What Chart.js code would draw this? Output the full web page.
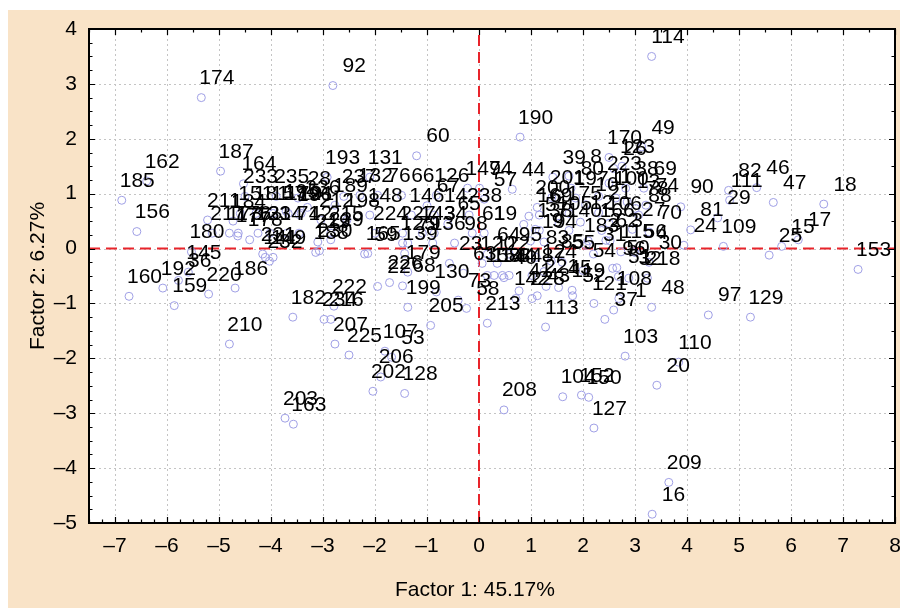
<!DOCTYPE html>
<html>
<head>
<meta charset="utf-8">
<title>Factor scores</title>
<script src="https://cdn.jsdelivr.net/npm/chart.js@4.4.0/dist/chart.umd.min.js"></script>
<style>
  html, body { margin: 0; padding: 0; background: #fff; }
  #wrap { width: 900px; height: 608px; }
</style>
</head>
<body>
<div id="wrap"><canvas id="factorChart" width="900" height="608"></canvas></div>
<script>
// ── Data: case numbers and their scores on factor 1 / factor 2 ──
const pointLabels = [
    174, 92, 114, 190, 60, 187, 164, 162, 185, 156,
    160, 192, 159, 36, 145, 220, 186, 180, 210, 182,
    234, 216, 222, 207, 225, 107, 53, 205, 206, 202,
    128, 203, 163, 208, 104, 152, 150, 127, 209, 16,
    20, 110, 97, 129, 103, 48, 37, 1, 121, 108,
    119, 142, 228, 113, 213, 58, 73, 199, 130, 68,
    226, 22, 153, 25, 15, 17, 18, 47, 46, 82,
    111, 29, 90, 81, 109, 24, 70, 30, 32, 218,
    96, 115, 56, 95, 83, 85, 194, 183, 62,
    170, 49, 26, 39, 8, 223, 80, 38, 69, 201,
    197, 100, 74, 78, 200, 169, 175, 88, 105, 106,
    138, 140, 166, 44, 57, 147, 94, 123, 2, 3,
    4, 5, 6, 7, 9, 10, 11, 12, 13, 21,
    27, 31,
    154, 84, 87, 124, 221, 40, 41, 43, 45, 50, 51, 52, 54, 55,
    131, 193, 28, 189, 132, 76, 66, 126, 148, 146,
    14, 238, 224, 227, 143, 34, 61, 19, 165, 125,
    79, 136, 98, 139, 23, 120, 122, 179, 158, 144,
    59, 63, 64, 65, 67,
    151, 181, 157, 172, 191, 211, 212, 198, 217, 176,
    133, 214, 71, 42, 215, 188, 141, 149, 173, 177,
    178, 184, 195, 196, 219, 229, 230, 231, 232, 233,
    235, 236, 237
];

const factor1 = [
    -5.34, -2.81, 3.32, 0.79, -1.20, -4.97, -4.53, -6.39, -6.87, -6.58,
    -6.73, -6.08, -5.86, -5.78, -5.59, -5.20, -4.69, -5.53, -4.80, -3.58,
    -2.98, -2.85, -2.79, -2.77, -2.50, -1.81, -1.68, -0.93, -1.89, -2.04,
    -1.43, -3.73, -3.57, 0.48, 1.61, 1.97, 2.11, 2.21, 3.65, 3.33,
    3.42, 3.84, 4.41, 5.22, 2.81, 3.32, 2.42, 2.59, 2.21, 2.69,
    1.79, 0.71, 1.02, 1.28, 0.16, -0.24, -0.40, -1.37, -0.82, -1.47,
    -1.72, -1.95, 7.29, 5.58, 5.82, 6.14, 6.63, 5.66, 5.34, 4.80,
    4.82, 4.59, 3.88, 4.07, 4.70, 3.94, 3.27, 3.27, 2.88, 3.24,
    2.57, 2.73, 2.98, 0.58, 1.10, 1.39, 1.25, 2.06, 2.44,
    2.50, 3.13, 2.59, 1.42, 1.73, 2.50, 1.77, 2.82, 3.17, 1.40,
    1.86, 2.63, 3.21, 3.01, 1.12, 1.16, 1.73, 3.07, 1.54, 2.50,
    1.16, 1.73, 2.36, 0.64, 0.10, -0.22, 0.01, 2.75, 2.10, 2.52,
    3.00, 0.86, 0.96, 1.08, 0.99, 2.05, 2.30, 1.95, 2.85, 2.30,
    2.95, 2.20,
    0.29, 0.58, 1.02, 1.25, 1.29, 0.48, 0.77, 1.12, 1.53, 2.65, 2.68, 1.80, 2.00, 1.60,
    -2.10, -2.92, -3.48, -2.77, -2.29, -1.95, -1.49, -0.82, -2.10, -1.30,
    -0.86, -0.19, -2.00, -1.47, -1.09, -0.86, -0.13, 0.10, -2.14, -1.47,
    -1.37, -0.89, -0.47, -1.43, -0.57, 0.06, 0.35, -1.37, 0.16, 0.45,
    -2.20, -0.30, 0.16, -0.60, -1.00,
    -4.59, -4.29, -3.96, -3.67, -3.42, -5.22, -3.04, -2.54, -5.13, -4.63,
    -4.25, -4.02, -3.69, -3.46, -2.85, -3.14, -4.11, -3.96, -4.80, -4.64,
    -4.41, -4.73, -3.71, -3.46, -3.10, -2.85, -3.07, -4.16, -4.03, -4.50,
    -3.90, -3.30, -2.60
];

const factor2 = [
    2.75, 2.97, 3.50, 2.03, 1.69, 1.41, 1.18, 1.23, 0.88, 0.31,
    -0.87, -0.72, -1.04, -0.58, -0.43, -0.83, -0.72, -0.06, -1.74, -1.25,
    -1.29, -1.29, -1.05, -1.74, -1.94, -1.87, -1.98, -1.40, -2.34, -2.60,
    -2.64, -3.09, -3.20, -2.94, -2.70, -2.67, -2.71, -3.27, -4.26, -4.84,
    -2.49, -2.07, -1.21, -1.25, -1.96, -1.07, -1.29, -1.12, -1.00, -0.91,
    -0.76, -0.91, -0.91, -1.43, -1.36, -1.09, -0.94, -1.07, -0.79, -0.68,
    -0.62, -0.69, -0.38, -0.12, 0.04, 0.16, 0.81, 0.84, 1.11, 1.06,
    0.88, 0.56, 0.76, 0.34, 0.04, 0.06, 0.30, -0.25, -0.54, -0.54,
    -0.36, -0.06, -0.06, -0.10, -0.16, -0.23, 0.12, 0.06, 0.15,
    1.66, 1.85, 1.46, 1.30, 1.32, 1.19, 1.10, 1.10, 1.10, 0.93,
    0.92, 0.92, 0.79, 0.73, 0.75, 0.61, 0.64, 0.61, 0.46, 0.46,
    0.33, 0.33, 0.33, 1.08, 0.90, 1.10, 1.10, 1.50, 0.14, 0.14,
    -0.07, 0.44, 0.59, 0.35, 0.14, 0.80, 0.95, 0.48, 0.85, 0.65,
    0.35, -0.10,
    -0.49, -0.49, -0.49, -0.42, -0.69, -0.53, -0.77, -0.86, -0.71, -0.35, -0.51, -0.86, -0.40, -0.25,
    1.30, 1.30, 0.92, 0.79, 0.97, 0.97, 0.97, 0.97, 0.61, 0.61,
    0.61, 0.61, 0.28, 0.28, 0.28, 0.28, 0.28, 0.28, -0.09, 0.10,
    0.10, 0.10, 0.10, -0.09, -0.27, -0.27, -0.27, -0.43, -0.49, -0.49,
    -0.10, -0.45, -0.10, 0.45, 0.78,
    0.64, 0.64, 0.64, 0.64, 0.64, 0.52, 0.52, 0.52, 0.28, 0.28,
    0.28, 0.28, 0.28, 0.28, 0.28, -0.07, -0.16, -0.16, 0.28, 0.23,
    0.16, 0.50, 0.68, 0.62, 0.12, 0.16, -0.04, -0.10, -0.23, 0.95,
    0.95, 0.75, 0.95
];

const xTicks = [-7, -6, -5, -4, -3, -2, -1, 0, 1, 2, 3, 4, 5, 6, 7, 8];
const yTicks = [-5, -4, -3, -2, -1, 0, 1, 2, 3, 4];

const xTitle = 'Factor 1: 45.17%';
const yTitle = 'Factor 2: 6.27%';

// ── Styling ──
const FONT = '"Liberation Sans", Arial, sans-serif';
const PEACH = '#f9e3c7';
const POINT_COLOR = '#a0a0e6';

Chart.defaults.font.family = FONT;

function minusSign(v) {
    return v < 0 ? '\u2013' + Math.abs(v) : String(v);
}

// background, grid, zero lines, labels, frame and titles
const decorPlugin = {
    id: 'decor',
    beforeDraw(chart) {
        const { ctx, chartArea: a } = chart;
        ctx.save();
        ctx.fillStyle = '#fff';
        ctx.fillRect(0, 0, chart.width, chart.height);
        ctx.fillStyle = PEACH;
        ctx.fillRect(8, 10, chart.width - 8, chart.height - 10);
        ctx.fillStyle = '#fff';
        ctx.fillRect(a.left, a.top, a.right - a.left, a.bottom - a.top);
        ctx.restore();
    },
    beforeDatasetsDraw(chart) {
        const { ctx, chartArea: a, scales } = chart;
        ctx.save();
        // dotted grid
        ctx.strokeStyle = '#c4c4c4';
        ctx.lineWidth = 1;
        ctx.setLineDash([2, 3]);
        xTicks.forEach(function (v) {
            const x = Math.round(scales.x.getPixelForValue(v)) + 0.5;
            ctx.beginPath();
            ctx.moveTo(x, a.top);
            ctx.lineTo(x, a.bottom);
            ctx.stroke();
        });
        yTicks.forEach(function (v) {
            const y = Math.round(scales.y.getPixelForValue(v)) + 0.5;
            ctx.beginPath();
            ctx.moveTo(a.left, y);
            ctx.lineTo(a.right, y);
            ctx.stroke();
        });
        // red dashed zero lines
        ctx.strokeStyle = '#e8242b';
        ctx.lineWidth = 2;
        ctx.setLineDash([11, 6]);
        const x0 = scales.x.getPixelForValue(0);
        const y0 = scales.y.getPixelForValue(0);
        ctx.beginPath();
        ctx.moveTo(x0, a.top + 6);
        ctx.lineTo(x0, a.bottom);
        ctx.stroke();
        ctx.beginPath();
        ctx.moveTo(a.left, y0);
        ctx.lineTo(a.right, y0);
        ctx.stroke();
        ctx.restore();
    },
    afterDatasetsDraw(chart) {
        const { ctx } = chart;
        const meta = chart.getDatasetMeta(0);
        ctx.save();
        ctx.font = '21px ' + FONT;
        ctx.fillStyle = '#000';
        ctx.textAlign = 'right';
        ctx.textBaseline = 'alphabetic';
        meta.data.forEach(function (pt, i) {
            ctx.fillText(String(pointLabels[i]), pt.x + 33, pt.y - 13.5);
        });
        ctx.restore();
    },
    afterDraw(chart) {
        const { ctx, chartArea: a, scales } = chart;
        ctx.save();
        ctx.strokeStyle = '#000';
        ctx.lineWidth = 1.2;
        // inward tick marks
        ctx.beginPath();
        for (let v = -7.5; v <= 8.001; v += 0.25) {
            const x = Math.round(scales.x.getPixelForValue(v)) + 0.5;
            const major = Math.abs(v - Math.round(v)) < 0.001;
            ctx.moveTo(x, a.bottom);
            ctx.lineTo(x, a.bottom - (major ? 6 : 3.5));
            if (Math.abs(v * 2 - Math.round(v * 2)) < 0.001) {
                ctx.moveTo(x, a.top);
                ctx.lineTo(x, a.top + (major ? 6 : 3.5));
            }
        }
        for (let v = -5; v <= 4.001; v += 0.25) {
            const y = Math.round(scales.y.getPixelForValue(v)) + 0.5;
            const major = Math.abs(v - Math.round(v)) < 0.001;
            ctx.moveTo(a.left, y);
            ctx.lineTo(a.left + (major ? 6 : 3.5), y);
            if (Math.abs(v * 2 - Math.round(v * 2)) < 0.001) {
                ctx.moveTo(a.right, y);
                ctx.lineTo(a.right - (major ? 6 : 3.5), y);
            }
        }
        ctx.stroke();
        // frame
        ctx.lineWidth = 2;
        ctx.strokeRect(a.left, a.top, a.right - a.left, a.bottom - a.top);
        // axis titles
        ctx.fillStyle = '#000';
        ctx.font = '21px ' + FONT;
        ctx.textAlign = 'center';
        ctx.textBaseline = 'middle';
        ctx.fillText(xTitle, 475, 590);
        ctx.translate(38, 276);
        ctx.rotate(-Math.PI / 2);
        ctx.fillText(yTitle, 0, 0);
        ctx.restore();
    }
};

const points = factor1.map(function (x, i) {
    return { x: x, y: factor2[i] };
});

new Chart(document.getElementById('factorChart').getContext('2d'), {
    type: 'scatter',
    data: {
        datasets: [{
            label: 'Cases',
            data: points,
            pointStyle: 'circle',
            pointRadius: 4,
            pointHoverRadius: 4,
            borderWidth: 1,
            borderColor: POINT_COLOR,
            backgroundColor: 'rgba(0,0,0,0)',
            clip: false,
        }]
    },
    options: {
        responsive: false,
        animation: false,
        devicePixelRatio: 1,
        layout: {
            padding: { top: 29, right: 2, left: 0, bottom: 0 }
        },
        plugins: {
            legend: { display: false },
            tooltip: { enabled: false }
        },
        scales: {
            x: {
                type: 'linear',
                min: -7.5,
                max: 8,
                grid: { display: false, drawTicks: false },
                border: { display: false },
                afterBuildTicks: function (scale) {
                    scale.ticks = xTicks.map(function (v) { return { value: v }; });
                },
                afterFit: function (scale) {
                    scale.height = 85;
                    scale.paddingLeft = 0;
                    scale.paddingRight = 0;
                },
                ticks: {
                    autoSkip: false,
                    maxRotation: 0,
                    padding: 11,
                    color: '#000',
                    font: { size: 21 },
                    callback: minusSign
                }
            },
            y: {
                type: 'linear',
                min: -5,
                max: 4,
                grid: { display: false, drawTicks: false },
                border: { display: false },
                afterBuildTicks: function (scale) {
                    scale.ticks = yTicks.map(function (v) { return { value: v }; });
                },
                afterFit: function (scale) {
                    scale.width = 89;
                    scale.paddingTop = 0;
                    scale.paddingBottom = 0;
                },
                ticks: {
                    autoSkip: false,
                    padding: 12,
                    color: '#000',
                    font: { size: 21 },
                    callback: minusSign
                }
            }
        }
    },
    plugins: [decorPlugin]
});
</script>
</body>
</html>
